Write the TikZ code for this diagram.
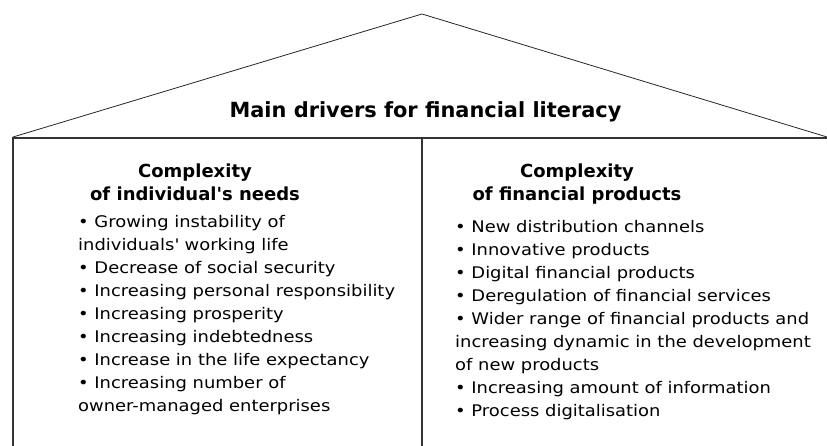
\documentclass[tikz,border=0pt]{standalone}
\usepackage{fontspec}
\setmainfont{DejaVu Sans}
\newfontfamily\listfont[FakeStretch=1.12]{DejaVu Sans}
\begin{document}
\begin{tikzpicture}[x=1pt,y=-1pt,
    roof/.style={line width=0.8pt, draw=black!85},
    wall/.style={line width=1.2pt, draw=black!80},
    titulo/.style={font=\fontsize{20.9}{24}\selectfont\bfseries, inner sep=0pt},
    cabecera/.style={font=\fontsize{18}{23}\selectfont\bfseries, align=center, inner sep=0pt, anchor=north},
    lista/.style={font=\fontsize{16}{23.1}\selectfont\listfont, align=left, inner sep=0pt, anchor=north west}]
    \useasboundingbox (0,0) rectangle (827,446);
    % Techo y paredes
    \coordinate (cima) at (422,14);
    \coordinate (aleroI) at (13,137);
    \coordinate (aleroD) at (827,137);
    \coordinate (sueloI) at (13,446);
    \coordinate (sueloM) at (422,446);
    \coordinate (vigaM) at (422,138);
    \draw[roof] (aleroI) -- (cima) -- (aleroD);
    \draw[wall] (sueloI) -- (13,138) -- (827,138);
    \draw[wall] (vigaM) -- (sueloM);
    % Titulo
    \node[titulo, anchor=base] (main) at (425.5,118) {Main drivers for financial literacy};
    % Columna izquierda
    \node[cabecera] (needs) at (195,163.6) {Complexity\\of individual\textquotesingle s needs};
    \node[lista] (needsList) at (78,214.8) {%
        • Growing instability of\\
        individuals\textquotesingle\ working life\\
        • Decrease of social security\\
        • Increasing personal responsibility\\
        • Increasing prosperity\\
        • Increasing indebtedness\\
        • Increase in the life expectancy\\
        • Increasing number of\\
        owner-managed enterprises};
    % Columna derecha
    \node[cabecera] (products) at (577,163.6) {Complexity\\of financial products};
    \node[lista] (productsList) at (455,219.8) {%
        • New distribution channels\\
        • Innovative products\\
        • Digital financial products\\
        • Deregulation of financial services\\
        • Wider range of financial products and\\
        increasing dynamic in the development\\
        of new products\\
        • Increasing amount of information\\
        • Process digitalisation};
\end{tikzpicture}
\end{document}
